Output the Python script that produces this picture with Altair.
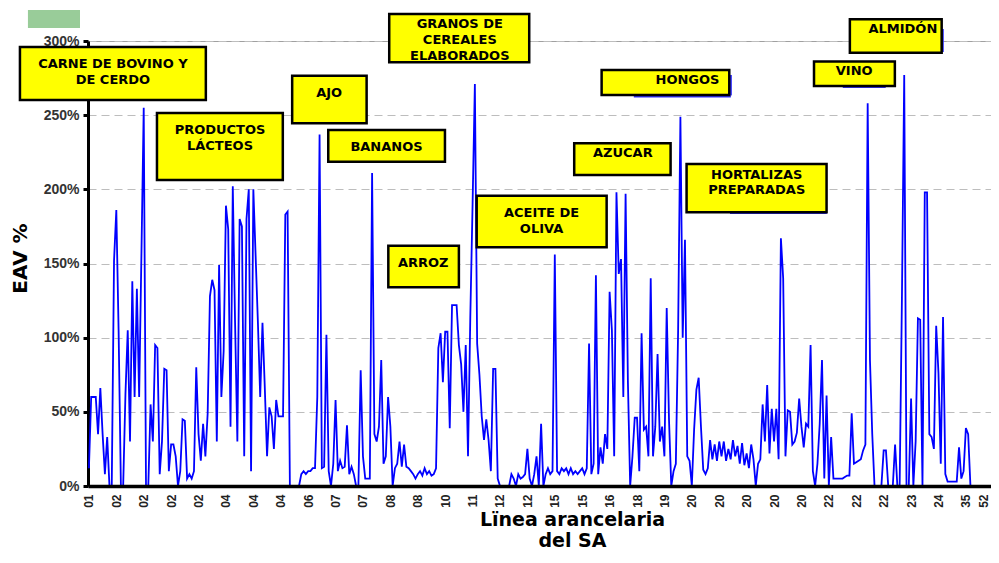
import altair as alt
import pandas as pd

# ---- data: EAV % per tariff line, grouped by tick interval (12 lines each) ----
seg00 = [12, 60, 60, 60, 35, 66, 35, 8, 33, 0, 0, 152]
seg01 = [186, 105, 0, 0, 62, 105, 30, 138, 60, 133, 60, 157]
seg02 = [255, 0, 0, 55, 30, 95, 93, 8, 30, 79, 78, 10]
seg03 = [28, 28, 20, 0, 10, 45, 44, 5, 8, 5, 10, 80]
seg04 = [35, 17, 42, 20, 49, 128, 139, 132, 30, 149, 60, 91]
seg05 = [189, 173, 40, 202, 110, 30, 180, 175, 20, 180, 200, 10]
seg06 = [200, 155, 110, 60, 110, 67, 20, 53, 47, 25, 58, 47]
seg07 = [47, 47, 183, 185, 0, 0, 0, 0, 0, 8, 10, 8]
seg08 = [10, 10, 12, 12, 60, 237, 12, 13, 102, 10, 0, 15]
seg09 = [58, 10, 17, 12, 13, 41, 8, 13, 8, 0, 0, 78]
seg10 = [20, 5, 5, 5, 211, 35, 30, 40, 85, 15, 20, 60]
seg11 = [40, 0, 12, 15, 30, 13, 28, 13, 12, 10, 8, 5]
seg12 = [8, 10, 7, 12, 8, 10, 7, 8, 12, 93, 103, 70]
seg13 = [104, 104, 39, 122, 122, 122, 95, 82, 50, 95, 20, 114]
seg14 = [190, 271, 96, 75, 47, 31, 45, 31, 10, 79, 79, 5]
seg15 = [0, 0, 0, 0, 0, 8, 5, 0, 8, 5, 6, 8]
seg16 = [25, 5, 0, 8, 20, 0, 42, 0, 8, 12, 8, 10]
seg17 = [156, 10, 8, 12, 10, 12, 8, 12, 8, 10, 8, 10]
seg18 = [12, 8, 12, 96, 8, 15, 142, 8, 26, 15, 35, 25]
seg19 = [131, 105, 20, 198, 143, 153, 60, 197, 71, 0, 20, 46]
seg20 = [46, 10, 103, 38, 40, 20, 140, 20, 40, 89, 30, 40]
seg21 = [20, 120, 45, 0, 10, 15, 105, 249, 100, 166, 20, 17]
seg22 = [0, 38, 65, 73, 40, 11, 8, 12, 31, 18, 28, 17]
seg23 = [30, 20, 30, 17, 25, 18, 31, 20, 27, 15, 29, 14]
seg24 = [22, 12, 28, 18, 0, 15, 18, 55, 30, 68, 22, 52]
seg25 = [30, 52, 18, 167, 140, 20, 51, 50, 28, 30, 36, 59]
seg26 = [40, 26, 42, 40, 95, 10, 0, 15, 42, 85, 5, 61]
seg27 = [0, 33, 5, 5, 5, 5, 5, 6, 7, 7, 49, 15]
seg28 = [16, 17, 18, 24, 28, 258, 85, 35, 0, 0, 0, 0]
seg29 = [24, 24, 0, 0, 0, 28, 0, 0, 127, 277, 0, 0]
seg30 = [59, 0, 30, 113, 112, 0, 198, 198, 35, 33, 25, 108]
seg31 = [76, 15, 114, 8, 3, 3, 3, 3, 3, 26, 5, 10]
seg32 = [39, 35, 0, 0, 0, 0, 0, 0, 0, 0, 0, 0]

tick_labels = ["01", "02", "02", "02", "02", "04", "04", "04", "06", "07", "07",
               "08", "08", "10", "11", "12", "12", "15", "15", "16", "18", "19",
               "20", "20", "20", "20", "20", "22", "22", "22", "23", "24", "35", "52"]
STEP = 12

segments = [seg00, seg01, seg02, seg03, seg04, seg05, seg06, seg07, seg08, seg09,
            seg10, seg11, seg12, seg13, seg14, seg15, seg16, seg17, seg18, seg19,
            seg20, seg21, seg22, seg23, seg24, seg25, seg26, seg27, seg28, seg29,
            seg30, seg31, seg32]
values = [v for s in segments for v in s]
df = pd.DataFrame({"x1": list(range(len(values))), "y1": values})

# ---- annotations (data coordinates: line index, EAV %) ----
box_x1 = [-30.2, 29.8, 89.0, 104.8, 131.5, 131.1, 169.8, 212.5, 224.5, 261.7, 317.5, 333.2]
box_x2 = [51.2, 84.9, 121.6, 155.9, 192.8, 162.0, 226.7, 254.7, 280.4, 323.0, 352.9, 373.4]
box_y1 = [260.2, 206.3, 244.5, 218.6, 285.6, 134.0, 160.9, 209.7, 263.6, 184.5, 269.7, 292.1]
box_y2 = [296.0, 251.5, 276.6, 240.0, 318.2, 162.0, 195.7, 231.0, 280.5, 217.1, 286.1, 314.6]
boxes = pd.DataFrame({"x1": box_x1, "x2": box_x2, "y1": box_y1, "y2": box_y2})

label_text = ["CARNE DE BOVINO Y", "DE CERDO", "PRODUCTOS", "LÁCTEOS", "AJO", "BANANOS",
              "GRANOS DE", "CEREALES", "ELABORADOS", "ARROZ", "ACEITE DE", "OLIVA",
              "AZUCAR", "HONGOS", "HORTALIZAS", "PREPARADAS", "VINO", "ALMIDÓN"]
label_x = [10.5, 10.5, 57.4, 57.4, 105.2, 130.3, 162.4, 162.4, 162.4, 146.4, 198.2, 198.2,
           233.8, 262.1, 292.4, 292.4, 335.1, 356.4]
label_y = [284.5, 273.7, 240.0, 229.2, 264.7, 228.7, 311.5, 300.7, 289.9, 150.1, 183.8, 173.1,
           224.3, 273.9, 210.0, 199.6, 279.8, 307.9]
labels = pd.DataFrame({"t": label_text, "x1": label_x, "y1": label_y})

shadow_x1 = [238.6, 281.1, 330.1, 373.9, 280.7]
shadow_x2 = [281.1, 281.1, 348.9, 373.9, 323.1]
shadow_y1 = [262.6, 263.3, 269.0, 292.6, 184.0]
shadow_y2 = [262.6, 277.1, 269.0, 308.1, 184.0]
shadows = pd.DataFrame({"x1": shadow_x1, "x2": shadow_x2, "y1": shadow_y1, "y2": shadow_y2})

legend_patch = pd.DataFrame({"x1": [-26.7], "x2": [-3.9], "y1": [308.8], "y2": [320.9]})

x_scale = alt.Scale(domain=[-0.4, 395.0], nice=False, zero=False)
y_scale = alt.Scale(domain=[0, 300], nice=False)

label_expr = "[" + ",".join("'%s'" % t for t in tick_labels) + "][round(datum.value/%d)]" % STEP
tick_values = [k * STEP for k in range(len(tick_labels) - 1)] + [391.5]

x_axis = alt.Axis(
    values=tick_values,
    labelExpr=label_expr, labelAngle=270, labelFont="Liberation Sans",
    labelFontWeight="bold", labelFontSize=12, labelColor="#222222", labelPadding=8,
    ticks=False, domainColor="black", domainWidth=3.5, grid=False, zindex=1,
    labelOverlap=False, labelBound=False, labelFlush=False,
    title=["Lïnea arancelaria", "del SA"], titleFont="DejaVu Sans", titleFontSize=19,
    titleFontWeight="bold", titleColor="black", titleX=484, titleY=24,
    titleAlign="center", titleBaseline="top", titleLineHeight=21, titleAnchor="start",
)
y_axis = alt.Axis(
    values=[0, 50, 100, 150, 200, 250, 300], labelExpr="datum.value + '%'",
    labelFont="Liberation Sans", labelFontWeight="bold", labelFontSize=14,
    labelColor="#333333", labelPadding=4, tickColor="black", tickWidth=3, tickSize=5,
    domainColor="black", domainWidth=3, grid=True, gridDash=[8, 5], gridColor="#bdbdbd",
    gridWidth=1, title="EAV %", titleFont="DejaVu Sans", titleFontSize=20,
    titleFontWeight="bold", titleColor="black", titleAngle=270, titleX=-68, titleY=217,
    titleAlign="center", titleBaseline="middle",
)


def xenc():
    return alt.X("x1:Q", scale=x_scale, axis=x_axis)


def yenc():
    return alt.Y("y1:Q", scale=y_scale, axis=y_axis)


line = alt.Chart(df).mark_line(color="#0000ff", strokeWidth=1.8).encode(x=xenc(), y=yenc())

rects = alt.Chart(boxes).mark_rect(fill="#ffff00", stroke="black", strokeWidth=2.5, clip=False).encode(
    x=xenc(), x2="x2:Q", y=yenc(), y2="y2:Q",
)

shadow_rules = alt.Chart(shadows).mark_rule(color="#3333ff", strokeWidth=2, clip=False).encode(
    x=xenc(), x2="x2:Q", y=yenc(), y2="y2:Q",
)

patch = alt.Chart(legend_patch).mark_rect(fill="#99cc99", clip=False).encode(
    x=xenc(), x2="x2:Q", y=yenc(), y2="y2:Q",
)

texts = alt.Chart(labels).mark_text(
    font="DejaVu Sans", fontWeight="bold", fontSize=13, color="black",
    align="center", baseline="middle", clip=False,
).encode(x=xenc(), y=yenc(), text="t:N")

chart = alt.layer(line, shadow_rules, rects, texts, patch).properties(
    width=903, height=445,
    autosize=alt.AutoSizeParams(type="none"),
    padding={"left": 80, "top": 33, "right": 0, "bottom": 64},
    background="white",
).configure_view(stroke="#a0a0a0", strokeWidth=1)

chart.save("out.html", embed_options={"renderer": "svg", "actions": False})
